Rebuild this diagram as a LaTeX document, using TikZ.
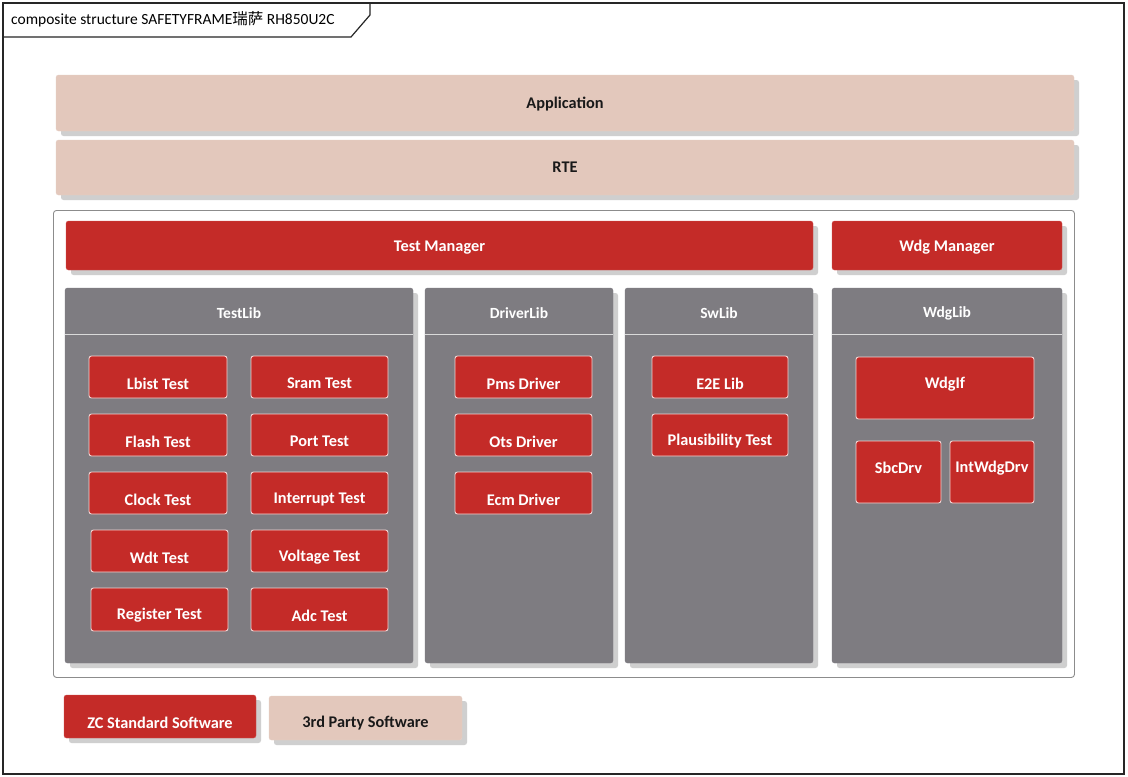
\documentclass[tikz,border=0pt]{standalone}
\usepackage{fontspec}
\setmainfont{Carlito}
\newfontfamily\cjk{Noto Sans CJK SC}
\usetikzlibrary{shadows}
\definecolor{zred}{HTML}{C42B28}
\definecolor{zpink}{HTML}{E3C8BC}
\definecolor{zgrey}{HTML}{7E7C81}
\definecolor{zshad}{HTML}{CFCFCF}
\definecolor{zline}{HTML}{DADADA}
\definecolor{zbord}{HTML}{8C8C8C}
\tikzset{
  base/.style={anchor=north west, inner sep=0pt, outer sep=0pt, rounded corners=2.5pt},
  shad/.style={general shadow={fill=zshad, shadow xshift=5pt, shadow yshift=-5pt}},
  layer/.style={base, shad, fill=zpink, draw=zpink!85!white},
  mgr/.style={base, shad, fill=zred, draw=zred!80!white},
  panel/.style={base, shad, fill=zgrey, draw=zgrey},
  btn/.style={base, fill=zred, draw=white!80!zred, line width=0.9pt},
  wtxt/.style={text=white, font=\bfseries\fontsize{16.3}{18}\selectfont, inner sep=0pt},
  btxt/.style={text=black!90, font=\bfseries\fontsize{16.3}{18}\selectfont, inner sep=0pt},
}
% #1 name, #2 style, #3 x1, #4 y1, #5 x2, #6 y2
\newcommand\blk[6]{\node[#2, minimum width={#5-#3}, minimum height={#6-#4}] (#1) at (#3,#4) {};}
\begin{document}
\begin{tikzpicture}[x=1pt,y=-1pt]
\useasboundingbox (0,0) rectangle (1128,777);
\fill[white] (0,0) rectangle (1128,777);
% outer frame
\draw[line width=1.4pt, black!85] (3,3) rectangle (1124,774);
\draw[line width=1.2pt, black!85] (3,37) -- (351,37) -- (370,15) -- (370,3);
\node[anchor=west, inner sep=0pt, font=\fontsize{15.5}{17}\selectfont] (title) at (11,19.5) {composite structure SAFETYFRAME{\cjk 瑞萨} RH850U2C};
% layers
\blk{app}{layer}{56}{75}{1074}{131}
\node[btxt] (appt) at ([yshift=-1pt]app.center) {Application};
\blk{rte}{layer}{56}{140}{1074}{195}
\node[btxt] (rtet) at (rte.center) {RTE};
% container
\node[anchor=north west, inner sep=0pt, draw=zbord, line width=0.9pt, fill=white, rounded corners=3pt, minimum width=1021, minimum height=467] (cont) at (53,210) {};
% managers
\blk{tm}{mgr}{66}{221}{813}{270}
\node[wtxt] (tmt) at ([yshift=-2pt]tm.center) {Test Manager};
\blk{wm}{mgr}{832}{221}{1062}{270}
\node[wtxt] (wmt) at ([yshift=-2pt]wm.center) {Wdg Manager};
% panels
\blk{testlib}{panel}{65}{288}{413}{663}
\blk{drvlib}{panel}{425}{288}{613}{663}
\blk{swlib}{panel}{625}{288}{813}{663}
\blk{wdglib}{panel}{832}{288}{1062}{663}
\foreach \p in {testlib,drvlib,swlib,wdglib}{
  \draw[zline, line width=0.9pt] (\p.west |- 0,334) -- (\p.east |- 0,334);
}
\node[wtxt, font=\bfseries\fontsize{15.5}{17}\selectfont] (testlibt) at ([yshift=-25.5pt]testlib.north) {TestLib};
\node[wtxt, font=\bfseries\fontsize{15.5}{17}\selectfont] (drvlibt) at ([yshift=-25.5pt]drvlib.north) {DriverLib};
\node[wtxt, font=\bfseries\fontsize{15.5}{17}\selectfont] (swlibt) at ([yshift=-25.5pt]swlib.north) {SwLib};
\node[wtxt, font=\bfseries\fontsize{15.5}{17}\selectfont] (wdglibt) at ([yshift=-25.5pt]wdglib.north) {WdgLib};
% TestLib buttons
\blk{lbist}{btn}{89}{356}{227}{398}
\blk{sram}{btn}{251}{356}{388}{398}
\blk{flash}{btn}{89}{414}{227}{456}
\blk{port}{btn}{251}{414}{388}{456}
\blk{clock}{btn}{89}{472}{227}{514}
\blk{irq}{btn}{251}{472}{388}{514}
\blk{wdt}{btn}{91}{530}{228}{572}
\blk{volt}{btn}{251}{530}{388}{572}
\blk{reg}{btn}{91}{588}{228}{631}
\blk{adc}{btn}{251}{588}{388}{631}
% DriverLib buttons
\blk{pms}{btn}{455}{356}{592}{398}
\blk{ots}{btn}{455}{414}{592}{456}
\blk{ecm}{btn}{455}{472}{592}{514}
% SwLib buttons
\blk{e2e}{btn}{652}{356}{788}{398}
\blk{plaus}{btn}{652}{414}{788}{456}
% button labels
\foreach \n/\t in {lbist/Lbist Test, sram/Sram Test, flash/Flash Test, port/Port Test, clock/Clock Test, irq/Interrupt Test, wdt/Wdt Test, volt/Voltage Test, reg/Register Test, adc/Adc Test, pms/Pms Driver, ots/Ots Driver, ecm/Ecm Driver, e2e/E2E Lib, plaus/Plausibility Test}{
  \node[wtxt] (\n t) at ([yshift=-27.5pt]\n.north) {\t};
}
% WdgLib buttons
\blk{wdgif}{btn}{856}{357}{1034}{419}
\node[wtxt] (wdgift) at ([yshift=-27.5pt]wdgif.north) {WdgIf};
\blk{sbc}{btn}{856}{441}{941}{503}
\node[wtxt] (sbct) at ([yshift=-27pt]sbc.north) {SbcDrv};
\blk{iwd}{btn}{950}{441}{1034}{503}
\node[wtxt] (iwdt) at ([yshift=-27pt]iwd.north) {IntWdgDrv};
% legend
\blk{zc}{mgr}{64}{695}{256}{738}
\node[wtxt] (zct) at ([yshift=-27.5pt]zc.north) {ZC Standard Software};
\blk{third}{layer}{269}{696}{462}{740}
\node[btxt] (thirdt) at ([yshift=-27.5pt]third.north) {3rd Party Software};
\end{tikzpicture}
\end{document}
